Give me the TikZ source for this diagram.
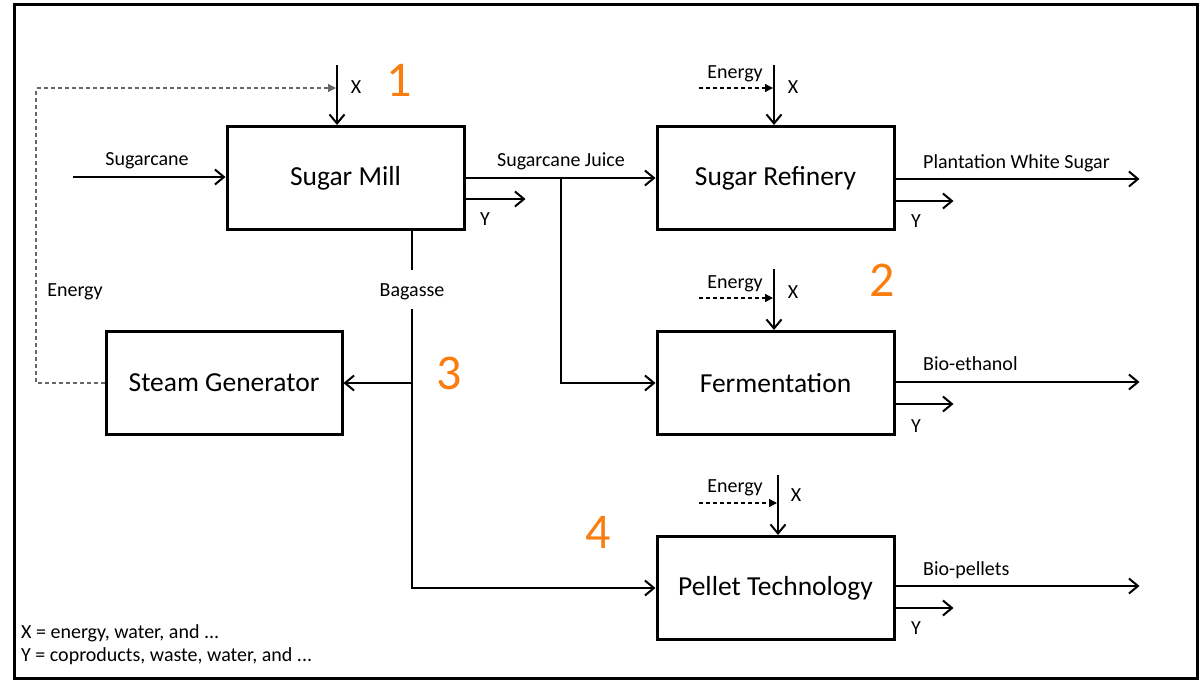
\documentclass[tikz,border=0pt]{standalone}
\usepackage{fontspec}
\setmainfont{Carlito}
\usetikzlibrary{arrows.meta,calc}
\definecolor{numorange}{RGB}{250,125,15}
\begin{document}
\begin{tikzpicture}[x=1pt,y=-1pt,
  box/.style={draw,line width=3pt,inner sep=0pt,minimum width=237pt,minimum height=103pt,font=\fontsize{27.5}{32}\selectfont},
  lbl/.style={inner sep=0pt,font=\fontsize{20}{24}\selectfont},
  num/.style={inner sep=0pt,text=numorange,font=\fontsize{50}{60}\selectfont},
  conn/.style={line width=2pt},
  arr/.style={conn,-{Straight Barb[length=9pt,width=15pt]}},
  dsh/.style={line width=1.2pt,dash pattern=on 4pt off 3pt,-{Triangle[length=8pt,width=8pt]}},
  dshg/.style={dsh,draw=black!60},
]
\useasboundingbox (0,0) rectangle (1199,680);
\draw[line width=3pt] (14,4) rectangle (1197,678);

% boxes
\node[box] (mill) at (345.5,178) {Sugar Mill};
\node[box] (ref) at (775.5,178) {Sugar Refinery};
\node[box] (ferm) at (775.5,383) {Fermentation};
\node[box] (pel) at (775.5,588) {Pellet Technology};
\node[box,minimum width=236pt] (steam) at (224,383) {Steam Generator};

% labels
\node[lbl] (cane) at (147,161) {Sugarcane};
\node[lbl] (juice) at (561,161) {Sugarcane Juice};
\node[lbl] (bag) at (412,292) {Bagasse};
\node[lbl] (en0) at (75,292) {Energy};
\node[lbl,anchor=west] (pws) at (923,163) {Plantation White Sugar};
\node[lbl,anchor=west] (eth) at (923,364) {Bio-ethanol};
\node[lbl,anchor=west] (pl) at (923,570) {Bio-pellets};
\node[lbl] (xm) at (356,87) {X};
\node[lbl] (xr) at (793,87) {X};
\node[lbl] (xf) at (793,292) {X};
\node[lbl] (xp) at (796,495) {X};
\node[lbl] (er) at (735,74) {Energy};
\node[lbl] (ef) at (735,284) {Energy};
\node[lbl] (ep) at (735,488) {Energy};
\node[lbl] (ym) at (485,219) {Y};
\node[lbl] (yr) at (916,221) {Y};
\node[lbl] (yf) at (916,426) {Y};
\node[lbl] (yp) at (916,628) {Y};
\node[lbl,anchor=west] (lx) at (21,633) {X = energy, water, and ...};
\node[lbl,anchor=west] (ly) at (21,656) {Y = coproducts, waste, water, and ...};

% numbers
\node[num] (n1) at (399,80) {1};
\node[num] (n2) at (882,280) {2};
\node[num] (n3) at (449,373) {3};
\node[num] (n4) at (598,532) {4};

% coordinates
\coordinate (caneS) at (73,177);
\coordinate (xmS) at (337,65);
\coordinate (xrS) at (774,65);
\coordinate (xfS) at (774,269);
\coordinate (xpS) at (778,475);
\coordinate (loop) at (36,88);
\coordinate (mE) at (336,88);
\coordinate (rS) at (699,88);
\coordinate (rE) at (773,88);
\coordinate (fS) at (699,298);
\coordinate (fE) at (773,298);
\coordinate (pS) at (699,503);
\coordinate (pE) at (777,503);
\coordinate (jn) at (561,178);

% main flows
\draw[arr] (caneS) -- (caneS -| mill.west);
\draw[arr] (xmS) -- (xmS |- mill.north);
\draw[arr] (xrS) -- (xrS |- ref.north);
\draw[arr] (xfS) -- (xfS |- ferm.north);
\draw[arr] (xpS) -- (xpS |- pel.north);
\draw[arr] (mill.east) -- (ref.west);
\draw[arr] (jn) |- (ferm.west);
\draw[conn] (mill.south -| bag) -- ($(bag.center)+(0,-22)$);
\draw[arr] ($(bag.center)+(0,17)$) |- (pel.west);
\draw[arr] (bag.center |- steam.east) -- (steam.east);

% outputs
\draw[arr] ($(ref.east)+(0,1)$) -- ++(244,0);
\draw[arr] ($(ferm.east)+(0,-1)$) -- ++(244,0);
\draw[arr] ($(pel.east)+(0,-2)$) -- ++(244,0);
\draw[arr] ($(mill.east)+(0,21)$) -- ++(60,0);
\draw[arr] ($(ref.east)+(0,23)$) -- ++(58,0);
\draw[arr] ($(ferm.east)+(0,21)$) -- ++(58,0);
\draw[arr] ($(pel.east)+(0,20)$) -- ++(58,0);

% energy dashed
\draw[dshg] (steam.west) -| (loop) -- (mE);
\draw[dsh] (rS) -- (rE);
\draw[dsh] (fS) -- (fE);
\draw[dsh] (pS) -- (pE);
\end{tikzpicture}
\end{document}
